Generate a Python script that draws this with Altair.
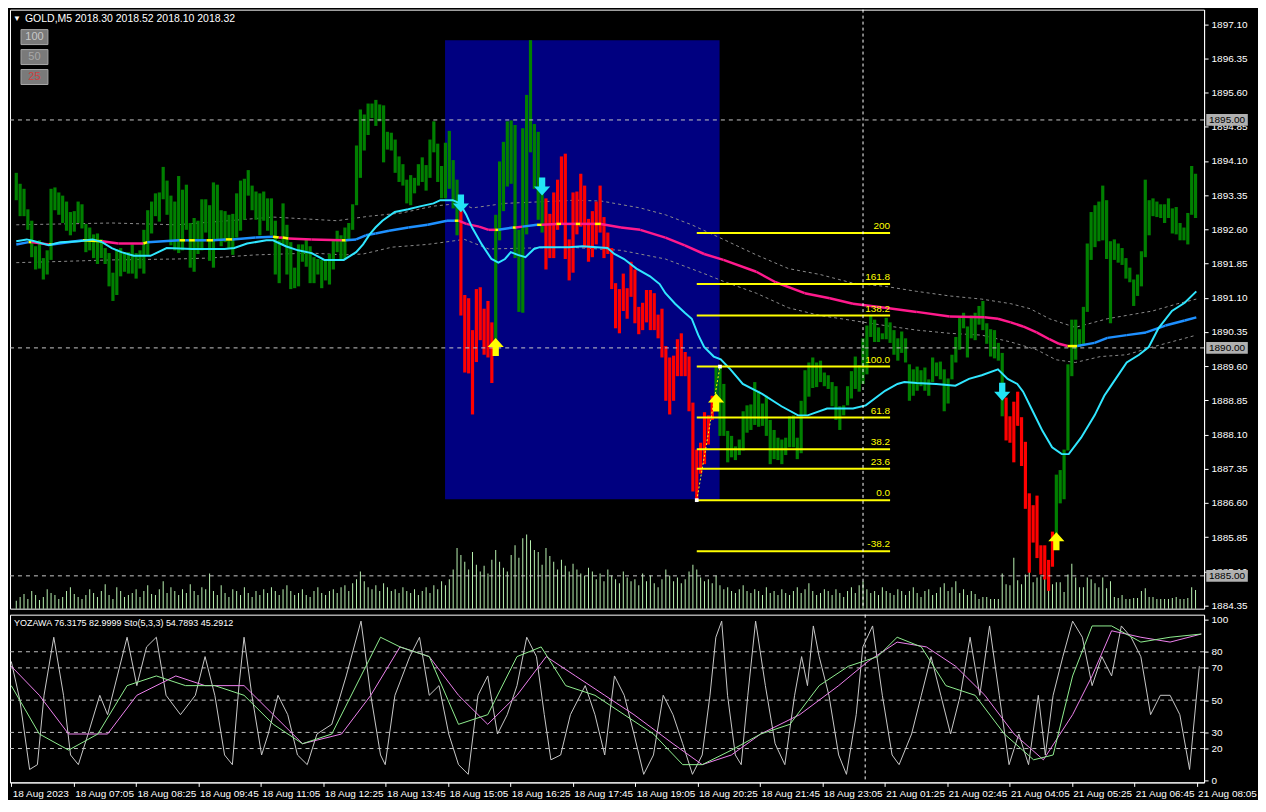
import json
import altair as alt
import pandas as pd

# ---------------- geometry of the panels ----------------
W, H1, H2 = 1196, 600, 168
XDOM = [-0.33, 305.92]
YDOM = [1884.28, 1897.42]
ODOM = [-1.0, 103.0]

# ---------------- data ----------------
HIGH = [1893.84, 1893.60, 1893.49, 1893.04, 1892.79, 1892.23, 1892.36, 1891.97, 1892.14, 1893.49,
        1893.52, 1893.41, 1893.34, 1893.21, 1892.98, 1893.00, 1893.21, 1893.15, 1892.72, 1892.64,
        1892.49, 1892.51, 1892.38, 1892.19, 1892.08, 1891.65, 1892.17, 1892.19, 1892.10, 1892.10,
        1892.27, 1892.08, 1892.14, 1892.59, 1893.02, 1893.21, 1893.39, 1893.41, 1893.97, 1893.67,
        1893.34, 1893.21, 1893.77, 1893.47, 1893.58, 1892.74, 1892.85, 1892.79, 1893.26, 1893.26,
        1893.13, 1893.63, 1893.58, 1893.02, 1893.00, 1892.92, 1892.94, 1893.39, 1893.67, 1893.71,
        1893.90, 1893.56, 1893.43, 1893.39, 1893.43, 1893.28, 1893.28, 1892.79, 1892.36, 1893.17,
        1892.70, 1892.32, 1891.76, 1892.27, 1892.27, 1892.38, 1892.23, 1891.99, 1891.95, 1891.93,
        1891.95, 1892.06, 1892.36, 1892.57, 1892.47, 1892.64, 1892.74, 1893.15, 1894.44, 1895.23,
        1895.12, 1895.36, 1895.36, 1895.44, 1895.34, 1895.32, 1894.74, 1894.72, 1894.57, 1894.20,
        1894.03, 1893.69, 1893.79, 1893.73, 1894.03, 1894.18, 1894.01, 1894.57, 1894.97, 1894.48,
        1893.99, 1894.50, 1894.76, 1894.12, 1893.69, 1893.02, 1891.16, 1891.09, 1890.39, 1891.29,
        1891.33, 1890.86, 1891.03, 1890.56, 1892.92, 1894.09, 1894.52, 1894.97, 1894.99, 1894.89,
        1892.59, 1894.82, 1895.55, 1896.75, 1894.91, 1894.74, 1893.69, 1893.28, 1892.94, 1893.41,
        1893.69, 1894.20, 1894.26, 1892.38, 1893.41, 1893.43, 1893.82, 1893.56, 1892.83, 1893.00,
        1893.21, 1893.56, 1892.87, 1892.53, 1892.19, 1891.42, 1891.29, 1891.63, 1891.31, 1891.89,
        1891.72, 1890.90, 1890.99, 1891.27, 1891.27, 1891.20, 1890.73, 1890.86, 1890.04, 1889.79,
        1889.83, 1890.19, 1890.32, 1889.91, 1889.81, 1888.80, 1887.77, 1887.92, 1888.59, 1888.52,
        1888.95, 1889.59, 1889.59, 1889.21, 1888.18, 1888.07, 1887.84, 1887.99, 1888.61, 1888.74,
        1888.76, 1889.25, 1889.06, 1888.78, 1888.95, 1888.42, 1888.20, 1888.03, 1887.99, 1888.03,
        1888.50, 1888.52, 1888.03, 1888.84, 1889.51, 1889.68, 1889.79, 1889.68, 1889.72, 1889.46,
        1889.40, 1889.25, 1889.16, 1888.72, 1888.74, 1889.16, 1889.49, 1889.81, 1889.62, 1890.21,
        1890.49, 1890.71, 1890.62, 1890.45, 1890.32, 1890.66, 1890.56, 1890.39, 1890.21, 1890.36,
        1890.21, 1889.64, 1889.53, 1889.59, 1889.51, 1889.57, 1889.31, 1889.79, 1889.68, 1889.70,
        1889.53, 1889.33, 1889.85, 1890.24, 1890.66, 1890.77, 1890.47, 1890.71, 1890.77, 1890.92,
        1891.03, 1890.54, 1890.41, 1890.39, 1890.11, 1889.89, 1888.91, 1888.50, 1888.82, 1889.04,
        1888.48, 1887.94, 1886.81, 1886.55, 1886.76, 1885.67, 1885.67, 1885.35, 1885.97, 1887.22,
        1887.32, 1887.77, 1889.64, 1890.62, 1890.62, 1890.41, 1890.90, 1892.29, 1892.98, 1893.13,
        1893.21, 1893.56, 1893.24, 1892.34, 1892.38, 1892.29, 1892.19, 1891.97, 1891.76, 1891.50,
        1891.61, 1892.12, 1893.69, 1893.24, 1893.28, 1893.21, 1893.15, 1893.15, 1893.28, 1893.06,
        1893.09, 1892.74, 1892.64, 1892.96, 1893.99, 1893.82]

LOW = [1893.24, 1892.89, 1892.89, 1892.59, 1891.99, 1891.72, 1891.74, 1891.50, 1891.61, 1891.93,
       1893.02, 1892.92, 1892.74, 1892.57, 1892.47, 1892.55, 1892.74, 1892.62, 1892.10, 1892.14,
       1891.97, 1891.84, 1891.97, 1891.84, 1891.35, 1891.03, 1891.16, 1891.57, 1891.67, 1891.63,
       1891.63, 1891.52, 1891.74, 1891.63, 1892.04, 1892.51, 1892.89, 1892.77, 1893.26, 1892.92,
       1892.25, 1892.14, 1892.08, 1892.14, 1892.59, 1891.76, 1891.67, 1892.06, 1892.14, 1892.53,
       1891.91, 1891.76, 1892.38, 1892.23, 1892.32, 1892.19, 1892.04, 1892.42, 1892.57, 1892.81,
       1893.34, 1893.02, 1892.81, 1892.47, 1892.79, 1892.57, 1892.47, 1891.61, 1891.42, 1892.27,
       1891.61, 1891.29, 1891.31, 1891.35, 1891.89, 1891.78, 1891.42, 1891.42, 1891.61, 1891.31,
       1891.48, 1891.39, 1891.72, 1892.10, 1891.95, 1891.95, 1892.38, 1892.59, 1893.13, 1893.73,
       1894.33, 1894.67, 1895.04, 1894.87, 1894.97, 1894.07, 1894.35, 1894.33, 1893.84, 1893.64,
       1893.56, 1893.17, 1893.13, 1893.39, 1893.56, 1893.64, 1893.45, 1893.73, 1894.29, 1893.64,
       1893.28, 1893.28, 1893.49, 1893.06, 1892.47, 1890.71, 1889.46, 1889.44, 1888.54, 1889.69,
       1890.17, 1889.85, 1889.79, 1889.23, 1890.07, 1892.36, 1893.00, 1893.54, 1893.60, 1891.97,
       1890.79, 1890.77, 1892.49, 1894.29, 1893.49, 1892.81, 1892.53, 1891.72, 1891.97, 1891.97,
       1892.59, 1892.70, 1891.95, 1891.48, 1891.65, 1892.49, 1892.66, 1892.19, 1891.89, 1891.99,
       1892.27, 1892.53, 1891.97, 1892.06, 1891.29, 1890.43, 1890.32, 1890.81, 1890.64, 1891.12,
       1890.54, 1890.30, 1890.39, 1890.56, 1890.39, 1890.39, 1890.21, 1889.79, 1888.84, 1888.54,
       1888.84, 1889.38, 1889.38, 1889.38, 1888.61, 1886.85, 1886.66, 1887.24, 1887.45, 1887.88,
       1888.42, 1888.63, 1888.07, 1888.07, 1887.49, 1887.60, 1887.54, 1887.65, 1887.75, 1888.14,
       1888.20, 1888.31, 1888.27, 1888.29, 1888.07, 1887.45, 1887.56, 1887.54, 1887.45, 1887.65,
       1887.82, 1887.82, 1887.56, 1887.69, 1888.52, 1888.93, 1889.12, 1889.14, 1889.25, 1889.16,
       1889.10, 1888.72, 1888.42, 1888.20, 1888.52, 1888.74, 1888.89, 1889.10, 1889.04, 1889.21,
       1889.42, 1890.24, 1890.13, 1890.13, 1890.19, 1890.19, 1890.11, 1889.85, 1889.72, 1889.89,
       1889.68, 1888.84, 1888.95, 1889.06, 1889.16, 1889.06, 1888.95, 1889.25, 1889.38, 1889.31,
       1888.61, 1888.78, 1889.31, 1889.68, 1889.96, 1890.43, 1889.79, 1890.21, 1890.17, 1890.51,
       1890.39, 1890.09, 1889.81, 1889.77, 1889.72, 1888.50, 1887.97, 1887.92, 1887.49, 1888.29,
       1887.41, 1886.47, 1885.07, 1885.73, 1885.39, 1885.03, 1884.92, 1884.67, 1885.20, 1885.73,
       1886.59, 1886.68, 1887.75, 1889.38, 1889.74, 1890.02, 1890.07, 1890.79, 1891.93, 1892.21,
       1892.34, 1892.36, 1891.95, 1890.54, 1891.93, 1891.87, 1891.82, 1891.52, 1891.44, 1890.92,
       1891.14, 1891.35, 1891.99, 1892.47, 1892.89, 1892.87, 1892.85, 1892.74, 1892.85, 1892.51,
       1892.49, 1892.36, 1892.36, 1892.27, 1892.92, 1892.85]

RED_RUNS = [(115, 123), (137, 180), (256, 268)]

VOLUME = [8, 12, 15, 10, 18, 14, 9, 12, 20, 16,
          14, 10, 12, 18, 22, 15, 12, 10, 14, 20,
          16, 12, 18, 25, 14, 10, 22, 18, 12, 14,
          16, 20, 12, 18, 24, 15, 14, 20, 28, 16,
          22, 18, 14, 20, 16, 25, 18, 14, 22, 20,
          36, 18, 14, 24, 16, 12, 20, 18, 14, 22,
          16, 12, 18, 14, 20, 16, 22, 18, 14, 20,
          24, 18, 14, 16, 20, 14, 12, 18, 22, 16,
          14, 18, 20, 16, 22, 24, 18, 26, 30, 38,
          28, 22, 20, 24, 18, 26, 22, 18, 20, 16,
          22, 18, 16, 20, 14, 18, 22, 16, 24, 20,
          28, 24, 30, 40, 62, 55, 48, 40, 58, 45,
          38, 44, 36, 50, 60, 48, 42, 38, 55, 65,
          52, 72, 76, 70, 60, 58, 45, 62, 54, 48,
          40, 50, 44, 38, 46, 40, 36, 34, 42, 38,
          30, 36, 28, 40, 34, 30, 26, 38, 32, 28,
          30, 24, 36, 28, 34, 26, 22, 30, 40, 34,
          28, 32, 26, 30, 38, 45, 40, 32, 28, 30,
          26, 34, 24, 20, 22, 18, 16, 20, 24, 18,
          16, 20, 18, 14, 22, 16, 18, 14, 20, 16,
          14, 18, 22, 16, 20, 26, 18, 14, 16, 20,
          18, 14, 20, 16, 12, 18, 22, 16, 24, 28,
          20, 16, 18, 14, 22, 18, 16, 14, 20, 18,
          14, 18, 22, 16, 12, 18, 20, 14, 16, 22,
          26, 18, 22, 28, 16, 20, 14, 18,
          15, 10, 12, 12, 10, 10, 10, 36, 25, 24, 52, 29, 25, 35, 39, 27, 32, 33, 36, 26, 25,
          27, 27, 17, 35, 46, 32, 22, 22, 32, 30, 26, 22, 32, 21, 28, 12, 11, 14, 10, 10, 11,
          11, 18, 21, 12, 12, 10, 10, 10, 10, 11, 12, 10, 10, 11, 22, 19]
VOL_MAX = 613

FAST_MA = [(0, 1892.34), (2.7, 1892.38), (4.7, 1892.34), (8.4, 1892.25), (11.4, 1892.32), (16.4, 1892.34),
           (19.7, 1892.38), (22.2, 1892.32), (24.7, 1892.19), (27.2, 1892.10), (30.4, 1892.02), (34.7, 1892.02),
           (38.9, 1892.19), (45.4, 1892.17), (53.9, 1892.17), (56.4, 1892.19), (59.7, 1892.29), (64.7, 1892.36),
           (66.4, 1892.36), (69.7, 1892.23), (72.9, 1892.14), (76.4, 1892.08), (79.7, 1891.93), (84.7, 1891.93),
           (87.9, 1892.10), (89.7, 1892.27), (91.4, 1892.49), (92.9, 1892.64), (94.7, 1892.79), (97.9, 1892.98),
           (101.4, 1893.04), (104.7, 1893.11), (107.9, 1893.17), (109.7, 1893.24), (112.9, 1893.24),
           (114.7, 1893.17), (116.4, 1892.92), (117.9, 1892.64), (120.4, 1892.27), (122.9, 1891.95),
           (124.7, 1891.87), (126.4, 1891.95), (127.9, 1892.10), (129.7, 1892.04), (131.7, 1891.99),
           (133.9, 1892.17), (135.4, 1892.21), (142.9, 1892.21), (146.4, 1892.23), (152.9, 1892.19),
           (154.7, 1892.06), (157.2, 1891.95), (160.4, 1891.74), (163.9, 1891.57), (166.4, 1891.40),
           (167.9, 1891.20), (170.4, 1890.97), (172.9, 1890.77), (174.7, 1890.64), (176.4, 1890.28),
           (177.9, 1890.02), (180.4, 1889.81), (182.2, 1889.75), (184.7, 1889.53), (187.9, 1889.21),
           (192.9, 1888.99), (197.9, 1888.72), (202.2, 1888.52), (204.7, 1888.52), (209.7, 1888.67),
           (216.4, 1888.67), (219.7, 1888.74), (224.7, 1889.06), (227.9, 1889.21), (229.7, 1889.25),
           (232.9, 1889.23), (237.9, 1889.21), (242.9, 1889.17), (246.4, 1889.32), (249.7, 1889.40),
           (253.9, 1889.53), (256.4, 1889.32), (258.9, 1889.21), (260.4, 1889.04), (262.9, 1888.61),
           (265.4, 1888.18), (267.9, 1887.82), (270.4, 1887.67), (272.2, 1887.67), (275.4, 1888.03),
           (278.9, 1888.52), (281.4, 1888.95), (282.9, 1889.14), (287.2, 1889.68), (290.4, 1889.85),
           (292.9, 1890.02), (295.4, 1890.43), (298.9, 1890.81), (302.2, 1890.99), (305.2, 1891.24)]

# slow MA: (bar, price, colour of the segment that starts here) B=rising, P=falling, Y=turn
SLOW_MA = [(0, 1892.27, 'B'), (3.2, 1892.32, 'Y'), (3.9, 1892.32, 'P'), (8.4, 1892.27, 'Y'), (9.2, 1892.27, 'B'),
           (17.2, 1892.36, 'Y'), (22.2, 1892.34, 'P'), (26.4, 1892.29, 'P'), (32.9, 1892.29, 'Y'),
           (33.9, 1892.32, 'B'), (42.2, 1892.36, 'Y'), (43.7, 1892.36, 'B'), (44.7, 1892.36, 'Y'),
           (46.2, 1892.36, 'B'), (49.2, 1892.36, 'Y'), (50.9, 1892.36, 'B'), (54.2, 1892.38, 'Y'),
           (55.9, 1892.38, 'B'), (61.9, 1892.42, 'B'), (66.4, 1892.44, 'Y'), (67.9, 1892.42, 'P'),
           (68.9, 1892.42, 'Y'), (70.4, 1892.40, 'P'), (76.4, 1892.38, 'P'), (84.2, 1892.36, 'Y'),
           (85.2, 1892.36, 'B'), (87.9, 1892.38, 'B'), (90.4, 1892.47, 'B'), (92.9, 1892.51, 'B'),
           (96.4, 1892.57, 'B'), (101.4, 1892.64, 'B'), (106.4, 1892.70, 'B'), (111.4, 1892.79, 'B'),
           (113.4, 1892.79, 'Y'), (114.4, 1892.79, 'P'), (116.4, 1892.72, 'P'), (119.7, 1892.66, 'P'),
           (122.2, 1892.59, 'P'), (123.9, 1892.59, 'Y'), (124.7, 1892.59, 'B'), (128.4, 1892.64, 'Y'),
           (129.2, 1892.64, 'P'), (130.9, 1892.66, 'B'), (134.7, 1892.70, 'Y'), (135.9, 1892.70, 'P'),
           (139.7, 1892.72, 'Y'), (140.9, 1892.72, 'P'), (144.7, 1892.72, 'Y'), (145.9, 1892.72, 'P'),
           (149.7, 1892.72, 'Y'), (151.2, 1892.72, 'P'), (156.4, 1892.64, 'P'), (161.4, 1892.59, 'P'),
           (167.9, 1892.42, 'P'), (172.9, 1892.25, 'P'), (177.9, 1892.06, 'P'), (182.9, 1891.93, 'P'),
           (191.4, 1891.67, 'P'), (196.4, 1891.44, 'P'), (203.9, 1891.20, 'P'), (210.4, 1891.09, 'P'),
           (216.4, 1890.97, 'P'), (224.7, 1890.88, 'P'), (232.9, 1890.79, 'P'), (241.4, 1890.69, 'P'),
           (250.4, 1890.67, 'P'), (253.9, 1890.64, 'P'), (257.2, 1890.56, 'P'), (260.4, 1890.47, 'P'),
           (263.9, 1890.34, 'P'), (267.2, 1890.19, 'P'), (269.7, 1890.09, 'P'), (271.9, 1890.04, 'Y'),
           (274.4, 1890.04, 'B'), (278.9, 1890.11, 'B'), (282.2, 1890.22, 'B'), (287.2, 1890.28, 'B'),
           (292.2, 1890.34, 'B'), (297.2, 1890.49, 'B'), (302.2, 1890.60, 'B'), (305.2, 1890.67, 'B')]

ENV_UPPER = [(0, 1892.70), (24.7, 1892.74), (41.4, 1892.70), (57.9, 1892.81), (66.4, 1892.87), (82.9, 1892.79),
             (91.4, 1892.89), (99.7, 1892.96), (107.9, 1893.11), (114.7, 1893.17), (117.9, 1893.07),
             (126.4, 1893.17), (144.7, 1893.24), (151.4, 1893.22), (161.4, 1893.07), (167.9, 1892.92),
             (174.7, 1892.70), (182.9, 1892.38), (191.4, 1892.04), (199.7, 1891.74), (207.9, 1891.61),
             (216.4, 1891.42), (224.7, 1891.35), (232.9, 1891.24), (241.4, 1891.14), (249.7, 1891.07),
             (257.2, 1890.97), (262.2, 1890.86), (267.2, 1890.64), (273.9, 1890.45), (282.2, 1890.64),
             (293.9, 1890.81), (300.4, 1890.97), (305.2, 1891.07)]
ENV_LOWER = [(0, 1891.87), (8.9, 1891.89), (24.7, 1891.93), (41.4, 1891.95), (49.7, 1891.97), (61.9, 1892.04),
             (76.4, 1892.08), (84.7, 1892.04), (89.7, 1892.06), (97.2, 1892.21), (106.4, 1892.27),
             (115.9, 1892.38), (122.2, 1892.17), (142.9, 1892.21), (156.4, 1892.14), (167.9, 1891.95),
             (177.9, 1891.63), (182.9, 1891.46), (191.4, 1891.20), (199.7, 1890.88), (207.9, 1890.71),
             (216.4, 1890.60), (224.7, 1890.49), (232.9, 1890.39), (241.4, 1890.32), (249.7, 1890.28),
             (257.2, 1890.13), (263.9, 1889.96), (268.9, 1889.74), (273.9, 1889.68), (280.4, 1889.81),
             (287.2, 1889.85), (293.9, 1890.02), (300.4, 1890.17), (305.2, 1890.28)]

SELL_ARROWS = [(115, 1893.17), (136, 1893.54), (255, 1889.04)]
BUY_ARROWS = [(124, 1890.02), (181, 1888.80), (269, 1885.76)]

BOX_START, BOX_END = 110.9, 181.9
BOX_TOP, BOX_BOTTOM = 1896.75, 1886.68

FIB_FROM, FIB_TO = 176, 182
FIB_0, FIB_100 = 1886.66, 1889.59
FIB_LINE_END = 226
FIB_RATIOS = [200, 161.8, 138.2, 100.0, 61.8, 38.2, 23.6, 0.0, -38.2]

ROUND_LEVELS = [1895.00, 1890.00, 1885.00]
CROSSHAIR_BAR = 219

PRICE_TICKS = [1897.10, 1896.35, 1895.60, 1894.85, 1894.10, 1893.35, 1892.60, 1891.85, 1891.10,
               1890.35, 1889.60, 1888.85, 1888.10, 1887.35, 1886.60, 1885.85, 1885.10, 1884.35]
OSC_TICKS = [0, 20, 30, 50, 70, 80, 100]
OSC_LEVELS = [20, 30, 50, 70, 80]

TIME_LABELS = ["18 Aug 2023", "18 Aug 07:05", "18 Aug 08:25", "18 Aug 09:45", "18 Aug 11:05",
               "18 Aug 12:25", "18 Aug 13:45", "18 Aug 15:05", "18 Aug 16:25", "18 Aug 17:45",
               "18 Aug 19:05", "18 Aug 20:25", "18 Aug 21:45", "18 Aug 23:05", "21 Aug 01:25",
               "21 Aug 02:45", "21 Aug 04:05", "21 Aug 05:25", "21 Aug 06:45", "21 Aug 08:05"]
LABEL_EVERY = 16

YOZAWA = [(0, 74), (2.2, 50), (4.7, 7), (6.7, 10), (8.4, 53), (10.9, 89), (13.4, 53), (15.2, 16), (17.2, 10),
          (19.7, 29), (22.7, 53), (24.7, 41), (27.2, 65), (29.7, 89), (32.2, 59), (34.7, 83), (37.2, 89),
          (39.7, 53), (43.4, 41), (47.2, 53), (49.7, 77), (52.2, 53), (54.7, 16), (56.7, 10), (58.4, 59),
          (59.7, 89), (61.7, 53), (64.2, 16), (65.9, 29), (68.4, 53), (70.9, 41), (73.4, 16), (75.9, 10),
          (78.4, 29), (82.2, 35), (85.9, 65), (89.7, 99), (92.2, 53), (94.7, 16), (95.9, 10), (98.4, 53),
          (102.2, 77), (104.7, 89), (107.2, 53), (109.7, 59), (112.2, 29), (114.7, 10), (117.2, 4),
          (119.7, 53), (122.2, 65), (124.7, 29), (127.2, 41), (129.7, 59), (132.2, 89), (134.7, 77),
          (136.7, 41), (138.4, 13), (140.9, 16), (143.4, 41), (147.2, 59), (149.7, 41), (152.2, 16),
          (154.7, 65), (157.2, 53), (159.7, 29), (162.2, 4), (164.7, 16), (167.2, 53), (169.7, 41),
          (172.2, 23), (174.7, 4), (177.2, 16), (179.2, 53), (180.7, 89), (182.2, 99), (183.7, 53),
          (185.7, 16), (187.2, 10), (188.9, 53), (190.9, 99), (193.4, 59), (195.9, 23), (198.4, 10),
          (200.9, 53), (202.7, 77), (204.2, 59), (205.7, 96), (207.2, 77), (209.7, 53), (212.2, 16),
          (214.2, 4), (216.7, 41), (218.4, 83), (220.9, 96), (223.4, 53), (225.9, 16), (227.7, 10),
          (230.9, 29), (233.4, 53), (235.9, 77), (238.4, 53), (240.9, 29), (243.4, 53), (245.9, 89),
          (248.4, 53), (250.9, 96), (253.4, 53), (255.9, 10), (258.4, 29), (260.9, 10), (263.4, 53),
          (265.2, 16), (267.2, 53), (269.7, 77), (272.2, 99), (274.7, 89), (277.2, 59), (279.7, 77),
          (282.2, 65), (284.7, 96), (287.2, 89), (289.7, 77), (292.2, 41), (294.7, 53), (297.2, 53),
          (299.7, 41), (302.2, 7), (304.7, 71)]
STO_MAIN = [(0, 59), (7.2, 29), (14.7, 19), (22.2, 29), (29.7, 59), (37.2, 65), (44.7, 59), (52.2, 59),
            (59.7, 53), (67.2, 35), (74.7, 23), (82.2, 29), (89.7, 65), (94.7, 89), (99.7, 83), (107.2, 77),
            (114.7, 35), (122.2, 41), (129.7, 77), (135.9, 83), (142.2, 59), (149.7, 53), (157.2, 41),
            (164.7, 29), (172.2, 10), (177.2, 10), (184.7, 19), (192.2, 29), (199.7, 35), (207.2, 59),
            (214.7, 71), (222.2, 77), (227.2, 89), (233.4, 83), (239.7, 59), (247.2, 53), (254.7, 29),
            (262.2, 13), (267.2, 16), (272.2, 65), (277.2, 96), (282.2, 96), (289.7, 86), (297.2, 89),
            (305.2, 91)]
STO_SIGNAL = [(0, 71), (7.2, 53), (14.7, 29), (24.7, 29), (32.2, 53), (42.2, 65), (49.7, 59), (59.7, 59),
              (67.2, 41), (74.7, 23), (84.7, 29), (92.2, 53), (99.7, 83), (107.2, 77), (114.7, 53),
              (122.2, 35), (129.7, 53), (137.2, 77), (144.7, 65), (152.2, 53), (159.7, 41), (169.7, 23),
              (177.2, 10), (184.7, 16), (192.2, 29), (202.2, 41), (212.2, 59), (219.7, 74), (227.2, 86),
              (234.7, 83), (242.2, 71), (249.7, 53), (257.2, 29), (264.7, 13), (272.2, 41), (277.2, 65),
              (282.2, 93), (289.7, 89), (297.2, 86), (305.2, 91)]

TITLE_TEXT = "GOLD,M5  2018.30 2018.52 2018.10 2018.32"
OSC_TEXT = "YOZAWA 76.3175 82.9999  Sto(5,3,3) 54.7893 45.2912"
BUTTONS = ["100", "50", "25"]

# ---------------- tables ----------------
assert len(HIGH) == len(LOW) == len(VOLUME)
n = len(HIGH)
red = set()
for a, b in RED_RUNS:
    red.update(range(a, b + 1))
bars = pd.DataFrame({"i": list(range(n)), "hi": HIGH, "lo": LOW, "vol": VOLUME,
                     "col": ["#FF0000" if k in red else "#008000" for k in range(n)]})

fast = pd.DataFrame(FAST_MA, columns=["i", "p"])
SLOW_COL = {"B": "#1E90FF", "P": "#FF1A8C", "Y": "#FFFF00"}
seg_rows = []
for k in range(len(SLOW_MA) - 1):
    a, b = SLOW_MA[k], SLOW_MA[k + 1]
    seg_rows.append({"i": a[0], "p": a[1], "seg": k, "col": SLOW_COL[a[2]]})
    seg_rows.append({"i": b[0], "p": b[1], "seg": k, "col": SLOW_COL[a[2]]})
slow = pd.DataFrame(seg_rows)
env = pd.concat([pd.DataFrame(ENV_UPPER, columns=["i", "p"]).assign(band="up"),
                 pd.DataFrame(ENV_LOWER, columns=["i", "p"]).assign(band="low")])
fib = pd.DataFrame({"r": FIB_RATIOS})
fib["p"] = FIB_0 + fib["r"] / 100.0 * (FIB_100 - FIB_0)
fib["x0"] = FIB_FROM
fib["x1"] = FIB_LINE_END
fib["lab"] = [("%.1f" % r) if r != 200 else "200" for r in FIB_RATIOS]
fib_anchor = pd.DataFrame({"i": [FIB_FROM, FIB_TO], "p": [FIB_0, FIB_100]})
sells = pd.DataFrame(SELL_ARROWS, columns=["i", "p"])
buys = pd.DataFrame(BUY_ARROWS, columns=["i", "p"])
box = pd.DataFrame({"x0": [BOX_START], "x1": [BOX_END], "p0": [BOX_BOTTOM], "p1": [BOX_TOP]})
levels = pd.DataFrame({"p": ROUND_LEVELS, "lab": ["%.2f" % v for v in ROUND_LEVELS]})
cross = pd.DataFrame({"i": [CROSSHAIR_BAR]})

# ---------------- scales / axes ----------------
FONT = "Liberation Sans"
xs = alt.Scale(domain=XDOM, nice=False, zero=False)
ys = alt.Scale(domain=YDOM, nice=False, zero=False)
os_ = alt.Scale(domain=ODOM, nice=False, zero=False)
X = alt.X("i:Q", scale=xs, axis=None)
Y = alt.Y("p:Q", scale=ys, axis=None)

price_axis = alt.Axis(orient="right", values=PRICE_TICKS, format=".2f", title=None, grid=False,
                      labelColor="#FFFFFF", tickColor="#FFFFFF", domainColor="#FFFFFF",
                      labelFont=FONT, labelFontSize=10, tickSize=4, labelPadding=3,
                      labelOverlap=False)
label_expr = json.dumps(TIME_LABELS) + "[round(datum.value/%d)]" % LABEL_EVERY
time_axis = alt.Axis(orient="bottom", values=[LABEL_EVERY * k for k in range(len(TIME_LABELS))],
                     labelExpr=label_expr, title=None, grid=False, labelAlign="left",
                     labelColor="#FFFFFF", tickColor="#FFFFFF", domainColor="#FFFFFF",
                     labelFont=FONT, labelFontSize=10, tickSize=4, labelPadding=2,
                     labelOverlap=False, labelFlush=False, labelOffset=1)
osc_axis = alt.Axis(orient="right", values=OSC_TICKS, format="d", title=None, grid=False,
                    labelColor="#FFFFFF", tickColor="#FFFFFF", domainColor="#FFFFFF",
                    labelFont=FONT, labelFontSize=10, tickSize=4, labelPadding=3,
                    labelOverlap=False)

DOWN = "M-0.35,-1 L0.35,-1 L0.35,0 L0.9,0 L0,1 L-0.9,0 L-0.35,0 Z"
UP = "M-0.35,1 L0.35,1 L0.35,0 L0.9,0 L0,-1 L-0.9,0 L-0.35,0 Z"
TAG = "M-1.6,-0.45 L1.6,-0.45 L1.6,0.45 L-1.6,0.45 Z"

# ---------------- top panel ----------------
l_box = alt.Chart(box).mark_rect(color="#000080").encode(
    x=alt.X("x0:Q", scale=xs, axis=None), x2="x1:Q",
    y=alt.Y("p0:Q", scale=ys, axis=None), y2="p1:Q")
l_vol = alt.Chart(bars).mark_bar(size=1, color="#B8F0B0", orient="vertical").encode(
    x=X, y=alt.Y("vol:Q", scale=alt.Scale(domain=[0, VOL_MAX], nice=False), axis=None))
l_env = alt.Chart(env).mark_line(color="#8A8A8A", strokeDash=[3, 3], strokeWidth=1).encode(
    x=X, y=Y, detail="band:N")
l_bars = alt.Chart(bars).mark_bar(size=3.2, orient="vertical").encode(
    x=X, y=alt.Y("lo:Q", scale=ys, axis=price_axis), y2="hi:Q",
    color=alt.Color("col:N", scale=None))
l_levels = alt.Chart(levels).mark_rule(color="#C8C8C8", strokeDash=[4, 4], strokeWidth=1).encode(y=Y)
l_slow = alt.Chart(slow).mark_line(strokeWidth=2.5).encode(
    x=X, y=Y, detail="seg:N", color=alt.Color("col:N", scale=None))
l_fast = alt.Chart(fast).mark_line(color="#30E6FF", strokeWidth=2).encode(x=X, y=Y)
l_fib = alt.Chart(fib).mark_rule(color="#FFFF00", strokeWidth=2).encode(
    x=alt.X("x0:Q", scale=xs, axis=None), x2="x1:Q", y=Y)
l_fibtxt = alt.Chart(fib).mark_text(color="#FFFF00", align="right", baseline="bottom", dy=-2,
                                    font=FONT, fontSize=10).encode(
    x=alt.X("x1:Q", scale=xs, axis=None), y=Y, text="lab:N")
l_fibline = alt.Chart(fib_anchor).mark_line(color="#FFFF00", strokeDash=[2, 2], strokeWidth=1).encode(x=X, y=Y)
l_fibpts = alt.Chart(fib_anchor).mark_point(shape="square", size=14, filled=True, color="#FFFFFF",
                                            opacity=1).encode(x=X, y=Y)
l_sell = alt.Chart(sells).mark_point(shape=DOWN, size=324, filled=True, color="#22E4F5",
                                     opacity=1, strokeWidth=0).encode(x=X, y=Y)
l_buy = alt.Chart(buys).mark_point(shape=UP, size=324, filled=True, color="#FFFF00",
                                   opacity=1, strokeWidth=0).encode(x=X, y=Y)
l_cross = alt.Chart(cross).mark_rule(color="#FFFFFF", strokeDash=[3, 3], strokeWidth=1).encode(x=X)
l_tags = alt.Chart(levels).mark_point(shape=TAG, size=676, filled=True, color="#B0B0B0",
                                      opacity=1, strokeWidth=0).encode(x=alt.value(W + 23), y=Y)
l_tagtxt = alt.Chart(levels).mark_text(color="#000000", font=FONT, fontSize=10).encode(
    x=alt.value(W + 23), y=Y, text="lab:N")

title_df = pd.DataFrame({"t": [TITLE_TEXT]})
l_tri = alt.Chart(title_df).mark_text(text="\u25BC", color="#FFFFFF", fontSize=8, align="left").encode(
    x=alt.value(3), y=alt.value(9))
l_title = alt.Chart(title_df).mark_text(color="#FFFFFF", font=FONT, fontSize=10.5, align="left").encode(
    x=alt.value(15), y=alt.value(9), text="t:N")
btn = pd.DataFrame({"lab": BUTTONS, "y0": [20, 40, 60], "y1": [35, 55, 75], "yc": [27.5, 47.5, 67.5],
                    "tc": ["#C8C8C8", "#A8A8A8", "#D04040"]})
l_btn = alt.Chart(btn).mark_rect(color="#7A7A7A", stroke="#A8A8A8", strokeWidth=1).encode(
    x=alt.value(11), x2=alt.value(38), y=alt.Y("y0:Q", scale=None), y2="y1:Q")
l_btntxt = alt.Chart(btn).mark_text(font=FONT, fontSize=11).encode(
    x=alt.value(24.5), y=alt.Y("yc:Q", scale=None), text="lab:N", color=alt.Color("tc:N", scale=None))

top = alt.layer(l_box, l_vol, l_env, l_bars, l_levels, l_slow, l_fast, l_fib, l_fibtxt, l_fibline,
                l_fibpts, l_sell, l_buy, l_cross, l_tags, l_tagtxt, l_tri, l_title, l_btn, l_btntxt
                ).resolve_scale(y="independent").properties(width=W, height=H1)

# ---------------- lower panel ----------------
XL = alt.X("i:Q", scale=xs, axis=time_axis)
VL = alt.Y("v:Q", scale=os_, axis=osc_axis)
osc_lv = pd.DataFrame({"v": OSC_LEVELS})
o_levels = alt.Chart(osc_lv).mark_rule(color="#C0C0C0", strokeDash=[4, 4], strokeWidth=1).encode(y=VL)
o_cross = alt.Chart(cross).mark_rule(color="#FFFFFF", strokeDash=[3, 3], strokeWidth=1).encode(x=XL)
o_white = alt.Chart(pd.DataFrame(YOZAWA, columns=["i", "v"])).mark_line(
    color="#C8C8C8", strokeWidth=1).encode(x=XL, y=VL)
o_sig = alt.Chart(pd.DataFrame(STO_SIGNAL, columns=["i", "v"])).mark_line(
    color="#EE82EE", strokeWidth=1).encode(x=XL, y=VL)
o_main = alt.Chart(pd.DataFrame(STO_MAIN, columns=["i", "v"])).mark_line(
    color="#90EE90", strokeWidth=1).encode(x=XL, y=VL)
o_txt = alt.Chart(pd.DataFrame({"t": [OSC_TEXT]})).mark_text(
    color="#FFFFFF", font=FONT, fontSize=9, align="left").encode(x=alt.value(4), y=alt.value(8), text="t:N")

bottom = alt.layer(o_levels, o_cross, o_white, o_sig, o_main, o_txt).properties(width=W, height=H2)

chart = alt.vconcat(top, bottom, spacing=2, padding=0, background="#000000").configure_view(
    stroke="#FFFFFF", strokeWidth=1)

chart.save("out.html", embed_options={"renderer": "svg", "actions": False})
